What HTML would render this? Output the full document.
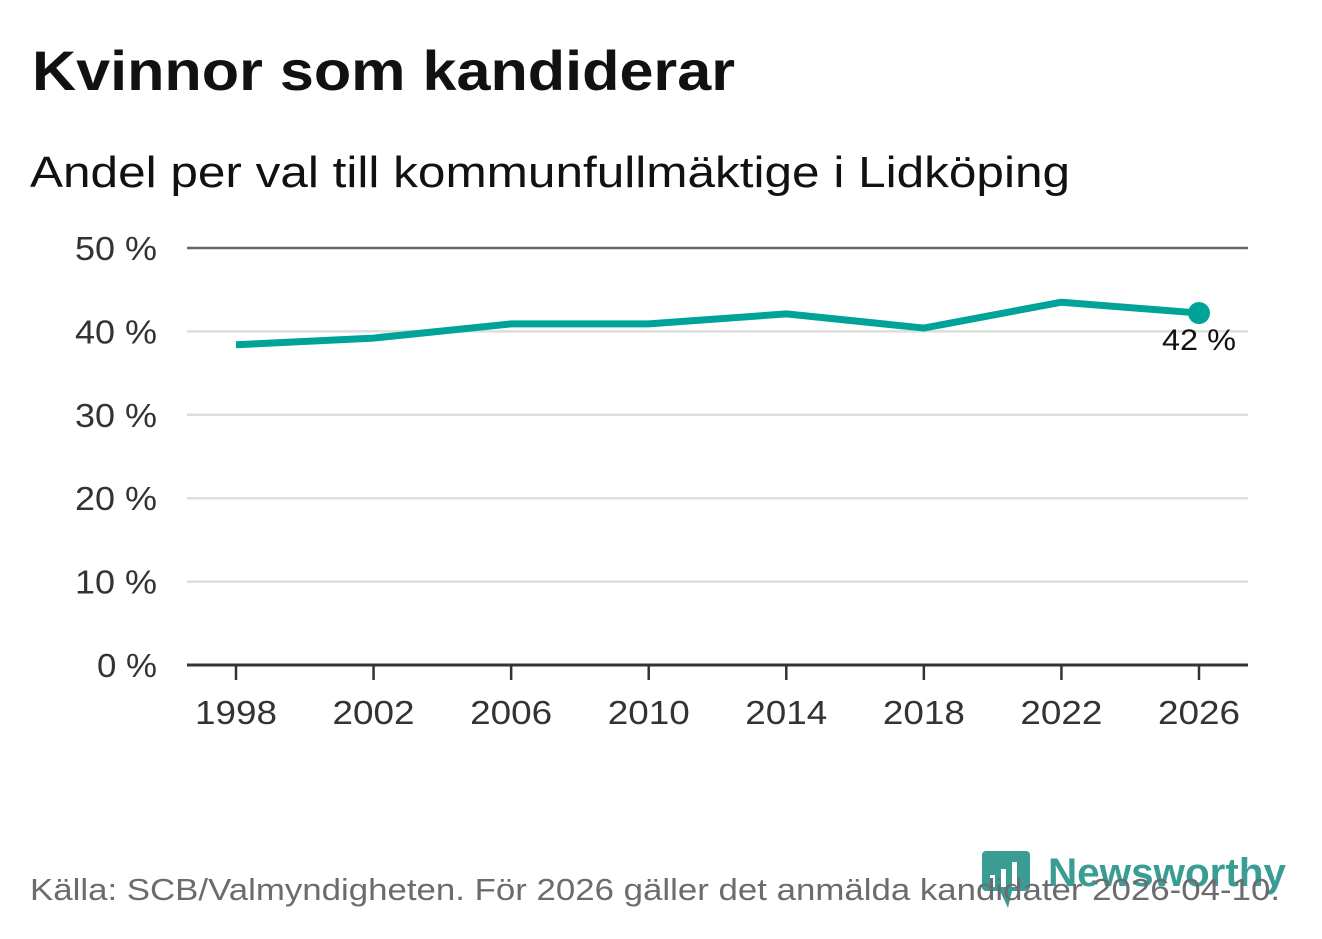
<!DOCTYPE html>
<html><head><meta charset="utf-8">
<style>
body{margin:0;background:#fff;width:1322px;height:939px;overflow:hidden;font-family:"DejaVu Sans","Liberation Sans",sans-serif;}
svg{position:absolute;left:0;top:0;font-family:"Liberation Sans","DejaVu Sans",sans-serif}
</style></head>
<body>
<svg width="1322" height="939">
<text x="32" y="90" font-size="56" font-weight="bold" fill="#111" textLength="703" lengthAdjust="spacingAndGlyphs">Kvinnor som kandiderar</text>
<text x="30" y="187" font-size="44" fill="#111" textLength="1040" lengthAdjust="spacingAndGlyphs">Andel per val till kommunfullmäktige i Lidköping</text>
<g id="grid"></g>
<g id="xaxis"></g>
<path id="line" fill="none" stroke="#00a398" stroke-width="7" stroke-linejoin="round"/>
<g id="marks"></g>
<g>
<rect x="982" y="851" width="48" height="40" rx="4" fill="#3a9d93"/>
<path d="M1000 891 L1012 891 L1008 908 Z" fill="#3a9d93"/>
<rect x="990" y="875" width="5" height="12" fill="#fff"/>
<rect x="1001" y="869" width="5" height="18" fill="#fff"/>
<rect x="1012" y="862" width="5" height="25" fill="#fff"/>
<text x="1048" y="886" font-size="40" font-weight="bold" fill="#3a9d93" textLength="238" lengthAdjust="spacingAndGlyphs">Newsworthy</text>
</g>
<text x="30" y="900" font-size="31" fill="#6b6b70" textLength="1250" lengthAdjust="spacingAndGlyphs">Källa: SCB/Valmyndigheten. För 2026 gäller det anmälda kandidater 2026-04-10.</text>
</svg>
<script>
const years=[1998,2002,2006,2010,2014,2018,2022,2026];
const values=[38.4,39.2,40.9,40.9,42.1,40.4,43.5,42.2];
const yTicks=[0,10,20,30,40,50];
const NS="http://www.w3.org/2000/svg";
const x=y=>236+(y-1998)*(1199-236)/28;
const yv=v=>665-v*(665-248)/50;
function mk(t,a,parent){const e=document.createElementNS(NS,t);for(const k in a)e.setAttribute(k,a[k]);document.getElementById(parent).appendChild(e);return e;}
yTicks.forEach(t=>{
  const l=mk('line',{x1:187,x2:1248,y1:yv(t),y2:yv(t),stroke:t===0?'#333':(t===50?'#666':'#ddd'),'stroke-width':t===0?3:2.5},'grid');
  
  
  const tx=mk('text',{x:157,y:yv(t)+12,'text-anchor':'end','font-size':33,fill:'#333',textLength:t===0?60:82,lengthAdjust:'spacingAndGlyphs'},'grid');
  tx.textContent=t+' %';
  
  
});
years.forEach(yr=>{
  const l=mk('line',{x1:x(yr),x2:x(yr),y1:665,y2:680,stroke:'#333','stroke-width':2.5},'xaxis');
  
  
  const t=mk('text',{x:x(yr),y:724,'text-anchor':'middle','font-size':33,fill:'#333',textLength:82,lengthAdjust:'spacingAndGlyphs'},'xaxis');
  t.textContent=yr;
  
  
});
document.getElementById('line').setAttribute('d',years.map((yr,i)=>(i?'L':'M')+x(yr)+' '+yv(values[i])).join(' '));
const n=years.length-1;
const c=mk('circle',{cx:x(years[n]),cy:yv(values[n]),r:11,fill:'#00a398'},'marks');


const lab=mk('text',{x:x(years[n]),y:yv(values[n])+37,'text-anchor':'middle','font-size':30,fill:'#111',textLength:74,lengthAdjust:'spacingAndGlyphs'},'marks');
lab.textContent=Math.round(values[n])+' %';


</script>
</body></html>
